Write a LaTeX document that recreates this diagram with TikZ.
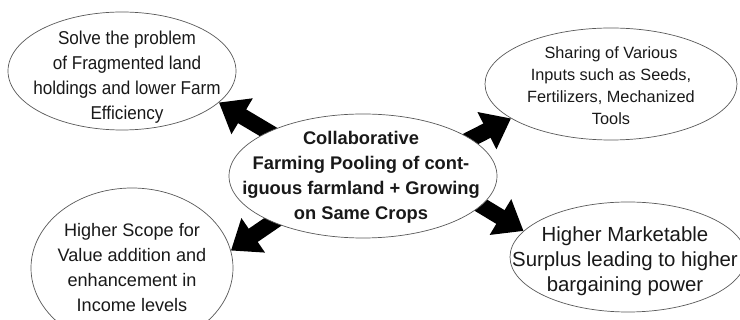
\documentclass[tikz,border=0pt]{standalone}
\usepackage{fontspec}
\setmainfont{Liberation Sans}
\newfontfamily\narrowsans[FakeStretch=0.92]{Liberation Sans}
\usetikzlibrary{shapes.geometric,arrows.meta}
\pgfdeclarelayer{back}
\pgfsetlayers{back,main}

\begin{document}
\begin{tikzpicture}[x=1pt,y=-1pt,
  bubble/.style={ellipse, draw=black!65, line width=0.7pt, fill=white, inner sep=0pt},
  txt/.style={align=center, inner sep=0pt, text=black!90},
  bigarrow/.style={line width=16pt, black, -{Triangle[length=27pt,width=40pt]}, shorten <=-14pt}]
\useasboundingbox (0,0) rectangle (740,320);

% outer bubbles
\node[bubble, minimum width=228pt, minimum height=118pt] (TL) at (122,71) {};
\node[txt, font=\narrowsans\fontsize{18.6}{25}\selectfont] (TLt) at (127,77)
  {Solve the problem\\of Fragmented land\\holdings and lower Farm\\Efficiency};

\node[bubble, minimum width=252pt, minimum height=112pt] (TR) at (611,84) {};
\node[txt, font=\fontsize{16.3}{22}\selectfont] (TRt) at (611,86)
  {Sharing of Various\\Inputs such as Seeds,\\Fertilizers, Mechanized\\Tools};

\node[bubble, minimum width=202pt, minimum height=160pt] (BL) at (132,268) {};
\node[txt, font=\fontsize{18.1}{25}\selectfont] (BLt) at (132,268)
  {Higher Scope for\\Value addition and\\enhancement in\\Income levels};

\node[bubble, minimum width=236pt, minimum height=110pt] (BR) at (628,257) {};
\node[txt, font=\fontsize{20.4}{25}\selectfont] (BRt) at (625,261)
  {Higher Marketable\\Surplus leading to higher\\bargaining power};

% central bubble
\node[bubble, minimum width=268pt, minimum height=124pt] (C) at (363,176) {};
\node[txt, font=\bfseries\fontsize{18.3}{25}\selectfont] (Ct) at (361,177)
  {Collaborative\\Farming Pooling of cont-\\iguous farmland + Growing\\on Same Crops};

% block arrows, kept behind the bubbles
\begin{pgfonlayer}{back}
  \draw[bigarrow] (C.155) -- (TL.-18);
  \draw[bigarrow] (C.19) -- (TR.199);
  \draw[bigarrow] (C.207) -- (BL.10);
  \draw[bigarrow] (C.-14) -- (BR.166);
\end{pgfonlayer}
\end{tikzpicture}
\end{document}
